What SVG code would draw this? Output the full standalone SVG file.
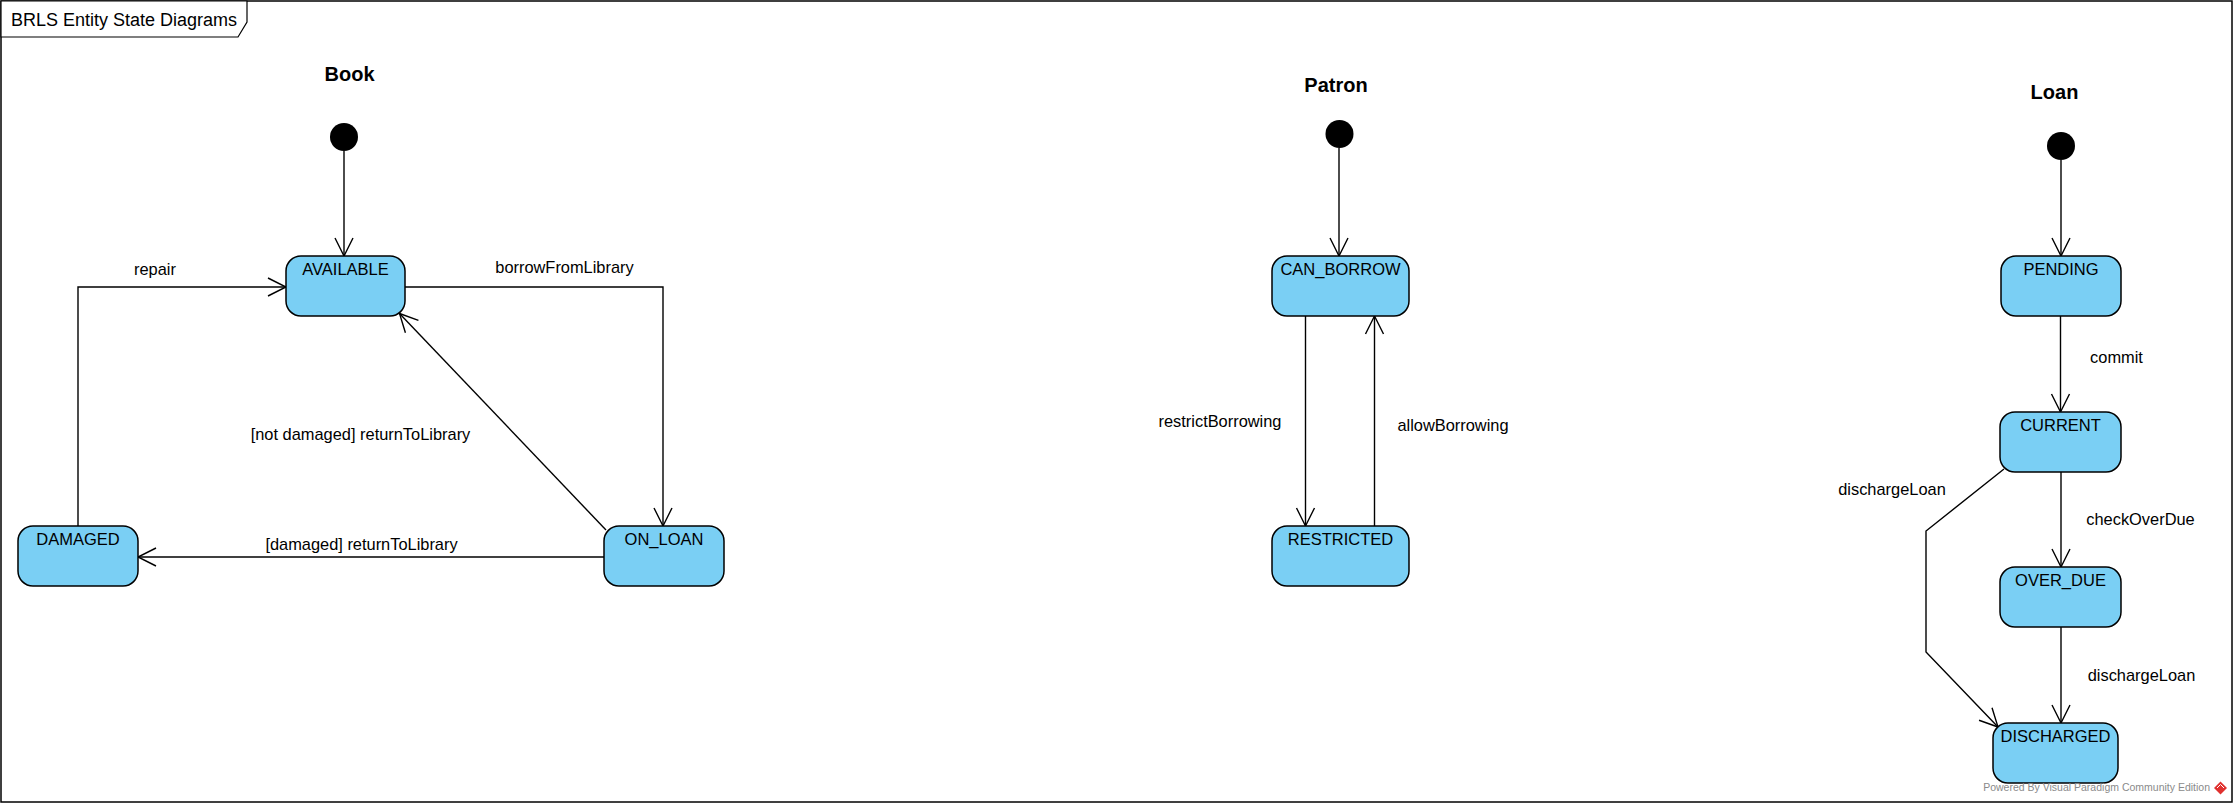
<svg xmlns="http://www.w3.org/2000/svg" width="2234" height="804" viewBox="0 0 2234 804">
<style>
  .frame{fill:#fff;stroke:#000;stroke-width:1.5}
  .tab{fill:#fff;stroke:#000;stroke-width:1.2}
  .state{fill:#7acff4;stroke:#000;stroke-width:1.5}
  .init{fill:#000}
  .lbl{font-family:"Liberation Sans",Arial,sans-serif;font-size:16.4px;fill:#000}
  .st{font-family:"Liberation Sans",Arial,sans-serif;font-size:16.5px;fill:#000;text-anchor:middle}
  .ttl{font-family:"Liberation Sans",Arial,sans-serif;font-size:20px;font-weight:bold;fill:#000;text-anchor:middle}
  .edge{fill:none;stroke:#000;stroke-width:1.4;marker-end:url(#arr)}
</style>
<defs>
  <marker id="arr" viewBox="-20 -11 22 22" refX="0" refY="0" markerWidth="22" markerHeight="22" markerUnits="userSpaceOnUse" orient="auto" overflow="visible">
    <path d="M-18,-9 L0,0 L-18,9" fill="none" stroke="#000" stroke-width="1.4"/>
  </marker>
</defs>
<rect class="frame" x="1" y="1" width="2231" height="801"/>
<g id="frame-title">
  <polygon class="tab" points="1,1 247,1 247,22 238,37 1,37"/>
  <text x="11" y="26" font-family="Liberation Sans, Arial, sans-serif" font-size="18">BRLS Entity State Diagrams</text>
</g>
<g id="titles">
  <text class="ttl" x="349.5" y="81">Book</text>
  <text class="ttl" x="1336" y="91.5">Patron</text>
  <text class="ttl" x="2054.5" y="99">Loan</text>
</g>
<g id="connectors">
  <path class="edge" d="M344,151 L344,256"/>
  <path class="edge" d="M78,526 L78,287 L286,287"/>
  <path class="edge" d="M405,287 L663,287 L663,526"/>
  <path class="edge" d="M606,530 L399.5,313.5"/>
  <path class="edge" d="M604,557 L138,557"/>
  <path class="edge" d="M1339,148 L1339,256"/>
  <path class="edge" d="M1305.5,316 L1305.5,526"/>
  <path class="edge" d="M1374.5,526 L1374.5,316"/>
  <path class="edge" d="M2061,160 L2061,256"/>
  <path class="edge" d="M2060.5,316 L2060.5,412"/>
  <path class="edge" d="M2061,472 L2061,567"/>
  <path class="edge" d="M2061,627 L2061,723"/>
  <path class="edge" d="M2004,469 L1926,531 L1926,652 L1998,727"/>
  <text class="lbl" x="155" y="275" text-anchor="middle">repair</text>
  <text class="lbl" x="564.5" y="273" text-anchor="middle">borrowFromLibrary</text>
  <text class="lbl" x="360.5" y="439.5" text-anchor="middle">[not damaged] returnToLibrary</text>
  <text class="lbl" x="361.5" y="549.5" text-anchor="middle">[damaged] returnToLibrary</text>
  <text class="lbl" x="1220" y="427" text-anchor="middle">restrictBorrowing</text>
  <text class="lbl" x="1453" y="431" text-anchor="middle">allowBorrowing</text>
  <text class="lbl" x="2116.5" y="362.5" text-anchor="middle">commit</text>
  <text class="lbl" x="2140.5" y="525" text-anchor="middle">checkOverDue</text>
  <text class="lbl" x="2141.5" y="680.5" text-anchor="middle">dischargeLoan</text>
  <text class="lbl" x="1892" y="494.5" text-anchor="middle">dischargeLoan</text>
</g>
<g id="book-initial"><circle class="init" cx="344" cy="137" r="14"/></g>
<g id="AVAILABLE"><rect class="state" x="286" y="256" width="119" height="60" rx="15"/><text class="st" x="345.5" y="275">AVAILABLE</text></g>
<g id="ON_LOAN"><rect class="state" x="604" y="526" width="120" height="60" rx="15"/><text class="st" x="664" y="544.5">ON_LOAN</text></g>
<g id="DAMAGED"><rect class="state" x="18" y="526" width="120" height="60" rx="15"/><text class="st" x="78" y="544.5">DAMAGED</text></g>
<g id="patron-initial"><circle class="init" cx="1339.5" cy="134" r="14"/></g>
<g id="CAN_BORROW"><rect class="state" x="1272" y="256" width="137" height="60" rx="15"/><text class="st" x="1340.5" y="275">CAN_BORROW</text></g>
<g id="RESTRICTED"><rect class="state" x="1272" y="526" width="137" height="60" rx="15"/><text class="st" x="1340.5" y="545">RESTRICTED</text></g>
<g id="loan-initial"><circle class="init" cx="2061" cy="146" r="14"/></g>
<g id="PENDING"><rect class="state" x="2001" y="256" width="120" height="60" rx="15"/><text class="st" x="2061" y="275">PENDING</text></g>
<g id="CURRENT"><rect class="state" x="2000" y="412" width="121" height="60" rx="15"/><text class="st" x="2060.5" y="431">CURRENT</text></g>
<g id="OVER_DUE"><rect class="state" x="2000" y="567" width="121" height="60" rx="15"/><text class="st" x="2060.5" y="585.5">OVER_DUE</text></g>
<g id="DISCHARGED"><rect class="state" x="1993" y="723" width="125" height="60" rx="15"/><text class="st" x="2055.5" y="741.5">DISCHARGED</text></g>
<g id="watermark">
  <text x="2210" y="791" text-anchor="end" font-family="Liberation Sans, Arial, sans-serif" font-size="10.5" fill="#8a8a8a">Powered By Visual Paradigm Community Edition</text>
  <polygon points="2220.5,781.5 2227,788 2220.5,794.5 2214,788" fill="#e0312f"/>
  <path d="M2217,788 L2220.5,784.5 L2224,788" fill="none" stroke="#fff" stroke-width="1"/>
</g>
</svg>
